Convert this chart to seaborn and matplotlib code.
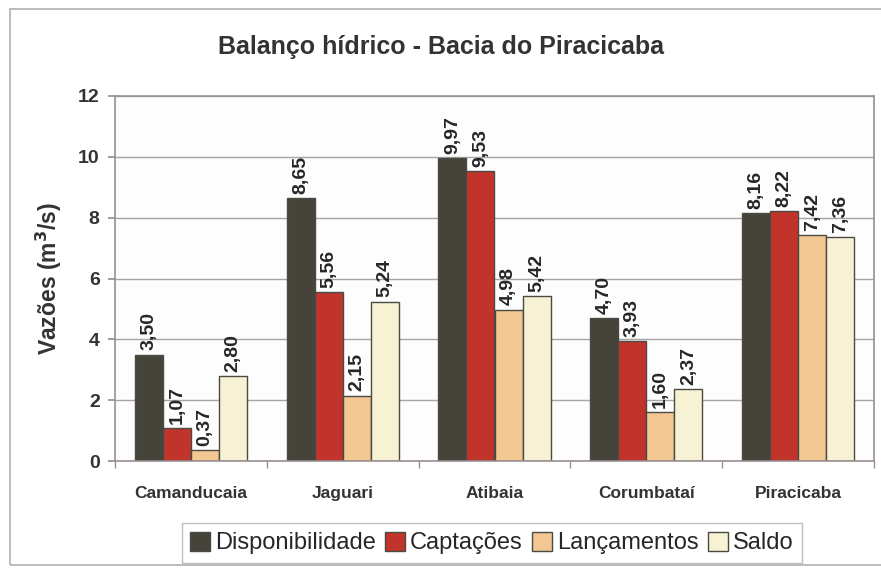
import numpy as np
import pandas as pd
import matplotlib
matplotlib.use("Agg")
import matplotlib.pyplot as plt
import seaborn as sns

bacias = ["Camanducaia", "Jaguari", "Atibaia", "Corumbataí", "Piracicaba"]
series = ["Disponibilidade", "Captações", "Lançamentos", "Saldo"]
disponibilidade = [3.50, 8.65, 9.97, 4.70, 8.16]
captacoes = [1.07, 5.56, 9.53, 3.93, 8.22]
lancamentos = [0.37, 2.15, 4.98, 1.60, 7.42]
saldo = [2.80, 5.24, 5.42, 2.37, 7.36]
cores = ["#46443a", "#c1342c", "#f3c791", "#f6f2d3"]

df = pd.DataFrame({"bacia": bacias, "Disponibilidade": disponibilidade,
                   "Captações": captacoes, "Lançamentos": lancamentos, "Saldo": saldo})
df = df.melt(id_vars="bacia", var_name="serie", value_name="vazao")

sns.set_theme(style="white")
plt.rcParams['font.family'] = ['Liberation Sans', 'DejaVu Sans']

fig = plt.figure(figsize=(8.81, 5.68), dpi=100)
fig.patch.set_facecolor("white")
ax = fig.add_axes([115 / 881, 1 - 461 / 568, 759 / 881, 365 / 568])

sns.barplot(data=df, x="bacia", y="vazao", hue="serie", order=bacias, hue_order=series,
            palette=cores, saturation=1, width=0.74, edgecolor="#4a4a44", linewidth=1.0, ax=ax)

for cont in ax.containers:
    labels = [f"{v:.2f}".replace(".", ",") for v in cont.datavalues]
    ax.bar_label(cont, labels=labels, rotation=90, padding=3, fontsize=14,
                 fontweight="bold", color="#262626")

ax.set_ylim(0, 12)
ax.set_yticks(range(0, 13, 2))
ax.set_xlim(-0.5, 4.5)
ax.grid(axis="y", color="#a8a4a4", linewidth=1)
ax.set_axisbelow(True)
for s in ax.spines.values():
    s.set_color("#9a9090")
    s.set_linewidth(1.2)
ax.set_facecolor("#fdfdfd")
ax.set_xlabel("")
ax.set_ylabel("Vazões (m$^\\mathbf{3}$/s)", fontsize=16.5, fontweight="bold", color="#333333", labelpad=10)
ax.tick_params(axis="y", labelsize=14, left=True, length=5, color="#9a9090", pad=6)
ax.tick_params(axis="x", labelsize=12.5, bottom=False, pad=12)
for t in ax.get_yticklabels() + ax.get_xticklabels():
    t.set_fontweight("bold")
    t.set_color("#333333")
ax.set_xticks(np.arange(-0.5, 5.0, 1.0), minor=True)
ax.tick_params(axis="x", which="minor", bottom=True, length=5, color="#9a9090")

fig.text(0.5, 1 - 47 / 568, "Balanço hídrico - Bacia do Piracicaba", ha="center", va="center",
         fontsize=18, fontweight="bold", color="#333333")

handles, lbls = ax.get_legend_handles_labels()
ax.legend(handles, lbls, loc="center", bbox_to_anchor=(492 / 881, 1 - 543 / 568),
          bbox_transform=fig.transFigure, ncol=4, fontsize=17, frameon=True, fancybox=False,
          edgecolor="#b0b0b0", handlelength=0.85, handleheight=0.85, handletextpad=0.2,
          columnspacing=0.4, borderpad=0.35)

fig.patches.append(plt.Rectangle((10 / 881, 3 / 568), 880 / 881, 556 / 568, transform=fig.transFigure,
                                 fill=False, edgecolor="#b0b0b0", linewidth=1.2))

fig.savefig("out.png", dpi=100)
